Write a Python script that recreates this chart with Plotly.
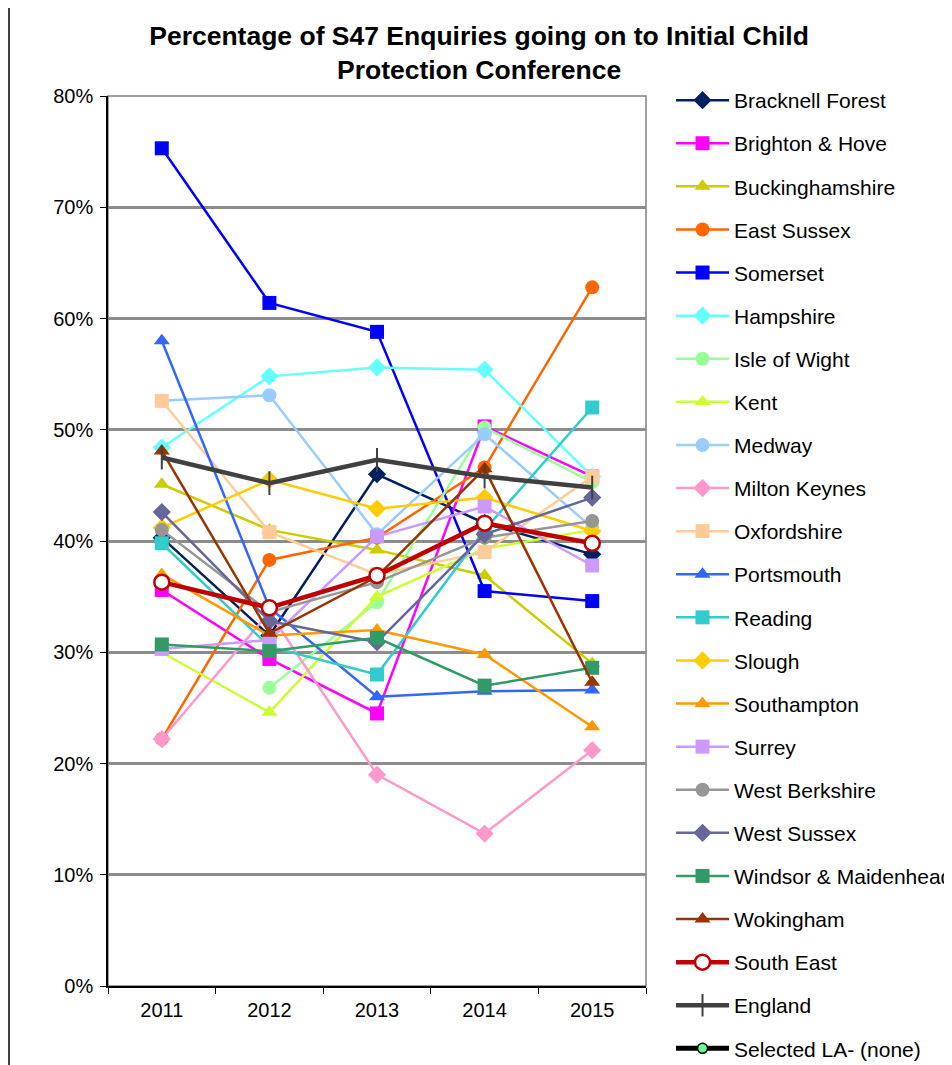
import plotly.graph_objects as go

# Datos (porcentaje, 2011-2015)
years = ["2011", "2012", "2013", "2014", "2015"]

bracknell_forest = [40.3, 31.5, 46.0, 41.6, 38.8]
brighton_hove = [35.6, 29.4, 24.5, 50.3, 45.8]
buckinghamshire = [45.1, 41.0, 39.2, 36.9, 29.0]
east_sussex = [22.2, 38.3, 40.3, 46.6, 62.8]
somerset = [75.3, 61.4, 58.8, 35.5, 34.6]
hampshire = [48.4, 54.8, 55.6, 55.4, 45.8]
isle_of_wight = [None, 26.8, 34.5, 50.2, 45.3]
kent = [30.0, 24.6, 35.0, 39.3, 41.0]
medway = [52.6, 53.1, 40.6, 49.6, 41.2]
milton_keynes = [22.2, 33.6, 19.0, 13.7, 21.2]
oxfordshire = [52.6, 40.8, 37.0, 39.0, 45.8]
portsmouth = [58.0, 34.0, 26.0, 26.5, 26.6]
reading = [39.8, 30.5, 28.0, 41.0, 52.0]
slough = [41.2, 45.5, 42.9, 43.9, 40.9]
southampton = [37.0, 31.5, 32.0, 29.8, 23.3]
surrey = [30.3, 31.1, 40.4, 43.1, 37.8]
west_berkshire = [41.0, 33.6, 36.3, 40.3, 41.8]
west_sussex = [42.6, 32.8, 30.9, 40.6, 43.9]
windsor_maidenhead = [30.7, 30.1, 31.3, 27.0, 28.6]
wokingham = [48.1, 31.7, 36.8, 46.5, 27.3]
south_east = [36.3, 34.0, 36.9, 41.6, 39.8]
england = [47.5, 45.2, 47.3, 45.8, 44.8]

series = [
    ("Bracknell Forest", bracknell_forest, "#002060", "diamond"),
    ("Brighton & Hove", brighton_hove, "#FF00FF", "square"),
    ("Buckinghamshire", buckinghamshire, "#CCCC00", "triangle-up"),
    ("East Sussex", east_sussex, "#FF6600", "circle"),
    ("Somerset", somerset, "#0000FF", "square"),
    ("Hampshire", hampshire, "#66FFFF", "diamond"),
    ("Isle of Wight", isle_of_wight, "#99FF99", "circle"),
    ("Kent", kent, "#CCFF33", "triangle-up"),
    ("Medway", medway, "#99CCFF", "circle"),
    ("Milton Keynes", milton_keynes, "#FF99CC", "diamond"),
    ("Oxfordshire", oxfordshire, "#FFCC99", "square"),
    ("Portsmouth", portsmouth, "#3366FF", "triangle-up"),
    ("Reading", reading, "#33CCCC", "square"),
    ("Slough", slough, "#FFCC00", "diamond"),
    ("Southampton", southampton, "#FF9900", "triangle-up"),
    ("Surrey", surrey, "#CC99FF", "square"),
    ("West Berkshire", west_berkshire, "#969696", "circle"),
    ("West Sussex", west_sussex, "#666699", "diamond"),
    ("Windsor & Maidenhead", windsor_maidenhead, "#339966", "square"),
    ("Wokingham", wokingham, "#993300", "triangle-up"),
]

fig = go.Figure()

for i, (nombre, valores, color, simbolo) in enumerate(series):
    fig.add_trace(go.Scatter(
        x=years,
        y=[v / 100 if v is not None else None for v in valores],
        mode="lines+markers",
        name=nombre,
        legendgroup=str(i),
        line=dict(color=color, width=2.5),
        marker=dict(symbol=simbolo, size=14, color=color),
    ))

fig.add_trace(go.Scatter(
    x=years,
    y=[v / 100 for v in south_east],
    mode="lines+markers",
    name="South East",
    legendgroup="se",
    line=dict(color="#C00000", width=4.5),
    marker=dict(symbol="circle", size=15, color="white",
                line=dict(color="#C00000", width=2.5)),
))

fig.add_trace(go.Scatter(
    x=years,
    y=[v / 100 for v in england],
    mode="lines+markers",
    name="England",
    legendgroup="en",
    line=dict(color="#404040", width=4.5),
    marker=dict(symbol="line-ns", size=17, color="#404040",
                line=dict(color="#404040", width=2)),
))

# Serie vacía, sólo aparece en la leyenda
fig.add_trace(go.Scatter(
    x=[None],
    y=[None],
    mode="lines+markers",
    name="Selected LA- (none)",
    legendgroup="sel",
    line=dict(color="#000000", width=5),
    marker=dict(symbol="circle", size=10, color="#66FF99",
                line=dict(color="#000000", width=1.5)),
))

# Marco del área del gráfico y borde izquierdo del gráfico
fig.add_shape(type="rect", xref="paper", yref="paper",
              x0=0, x1=1, y0=0, y1=1,
              line=dict(color="#808080", width=1.5), layer="below")
fig.add_shape(type="line", xref="paper", yref="paper",
              x0=-99 / 538, x1=-99 / 538, y0=-79 / 890, y1=88 / 890 + 1,
              line=dict(color="#000000", width=1.5))

fig.update_layout(
    width=944,
    height=1057,
    title=dict(
        text="Percentage of S47 Enquiries going on to Initial Child<br>Protection Conference",
        x=0.499, xanchor="center", y=0.965, yanchor="middle",
        font=dict(family="Liberation Sans, Arial", size=26.5, color="black", weight="bold"),
    ),
    margin=dict(l=100, r=306, t=88, b=79, autoexpand=False),
    paper_bgcolor="white",
    plot_bgcolor="white",
    font=dict(family="Liberation Sans, Arial", size=20, color="black"),
    showlegend=True,
    legend=dict(
        x=1.0465, xanchor="left", y=1.018, yanchor="top",
        traceorder="grouped", tracegroupgap=12.8,
        itemwidth=53,
        maxheight=1000,
        font=dict(size=21),
        bgcolor="rgba(0,0,0,0)",
    ),
    xaxis=dict(
        type="category",
        range=[-0.5, 4.5],
        tickson="boundaries",
        ticks="outside", ticklen=6, tickcolor="black",
        showline=True, linecolor="black", linewidth=1.5,
        showgrid=False,
        ticklabelstandoff=5,
        tickfont=dict(size=20),
    ),
    yaxis=dict(
        range=[0, 0.8],
        dtick=0.1,
        tickformat=".0%",
        ticks="outside", ticklen=6, tickcolor="black",
        showline=True, linecolor="black", linewidth=1.5,
        showgrid=True, gridcolor="#8C8C8C", gridwidth=2.5,
        zeroline=False,
        ticklabelstandoff=3,
        tickfont=dict(size=20),
    ),
)

fig.write_html("out.html")
